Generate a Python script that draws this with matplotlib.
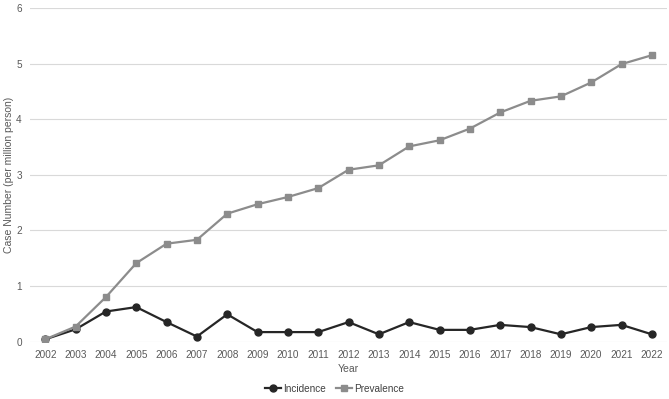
import matplotlib.pyplot as plt

years = list(range(2002, 2023))
incidence = [0.04, 0.22, 0.54, 0.62, 0.35, 0.09, 0.49, 0.17, 0.17, 0.17,
             0.35, 0.13, 0.35, 0.21, 0.21, 0.30, 0.26, 0.13, 0.26, 0.30, 0.13]
prevalence = [0.04, 0.27, 0.80, 1.41, 1.76, 1.83, 2.30, 2.47, 2.60, 2.76,
              3.09, 3.17, 3.51, 3.62, 3.83, 4.12, 4.33, 4.41, 4.66, 4.99, 5.15]

plt.rcParams['font.family'] = ['Liberation Sans', 'DejaVu Sans']

fig = plt.figure(figsize=(6.69, 3.99), dpi=100)
ax = fig.add_axes([0.045, 0.144, 0.952, 0.836])

ax.plot(years, incidence, color='#262626', lw=1.6, marker='o', ms=5,
        label='Incidence', zorder=3)
ax.plot(years, prevalence, color='#8c8c8c', lw=1.6, marker='s', ms=5,
        label='Prevalence', zorder=4)

ax.set_xlim(2001.5, 2022.5)
ax.set_ylim(0, 6)
ax.set_xticks(years)
ax.set_yticks(range(0, 7))
ax.grid(axis='y', color='#d9d9d9', lw=0.8)
ax.set_axisbelow(True)
for s in ax.spines.values():
    s.set_visible(False)
ax.tick_params(length=0, labelsize=7.2, colors='#595959', pad=6)

ax.set_xlabel('Year', fontsize=7.5, color='#595959', labelpad=3)
# y label placed in figure coords so it is not cut off at the left edge
fig.text(0.013, 0.561, 'Case Number (per million person)', rotation=90,
         ha='center', va='center', fontsize=7.5, color='#595959')

fig.legend(loc='lower center', bbox_to_anchor=(0.5, -0.01), ncol=2,
           frameon=False, fontsize=7.2, labelcolor='#404040', handlelength=1.6,
           handletextpad=0.2, columnspacing=1.0)

fig.savefig('out.png', dpi=100)
